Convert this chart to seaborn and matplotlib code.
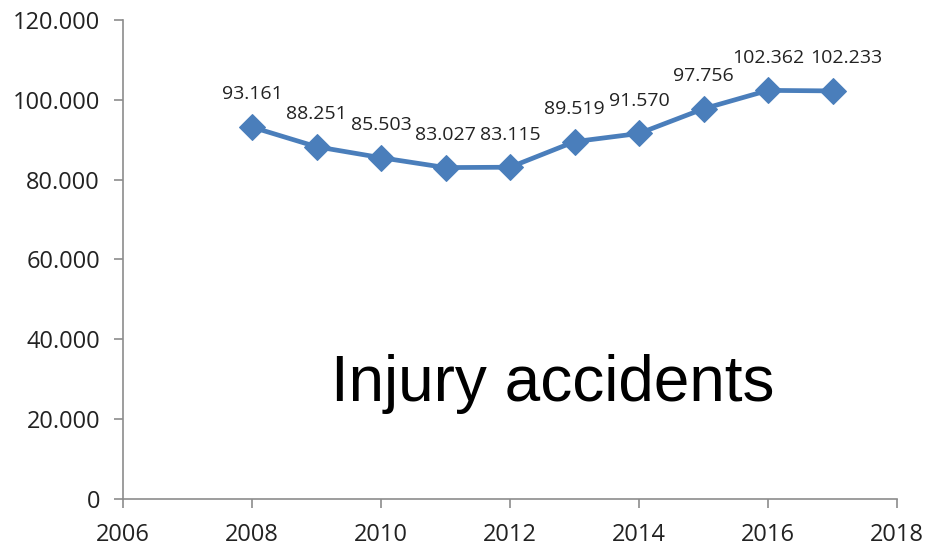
import seaborn as sns
import matplotlib.pyplot as plt
import matplotlib.ticker as mticker
import pandas as pd

years = [2008, 2009, 2010, 2011, 2012, 2013, 2014, 2015, 2016, 2017]
accidents = [93161, 88251, 85503, 83027, 83115, 89519, 91570, 97756, 102362, 102233]
y_ticks = [0, 20000, 40000, 60000, 80000, 100000, 120000]
x_ticks = [2006, 2008, 2010, 2012, 2014, 2016, 2018]
title_text = "Injury accidents"

def dotted(v):
  return f"{int(v):,}".replace(',', '.')

df = pd.DataFrame({'year': years, 'accidents': accidents})

sns.set_style("white")
plt.rcParams['font.family'] = ['Open Sans', 'DejaVu Sans']

fig = plt.figure(figsize=(9.29, 5.46), dpi=100)
ax = fig.add_axes([0.1324, 0.0861, 0.8332, 0.8773])

line_color = '#4A7EBB'
sns.lineplot(data=df, x='year', y='accidents', ax=ax, color=line_color,
             linewidth=3.4, marker='D', markersize=13, markeredgecolor=line_color)

n = len(years)
for i, (x, y) in enumerate(zip(years, accidents)):
  dx = 10 if i == n - 1 else 0  # last label nudged right so it doesn't collide
  ax.annotate(dotted(y), (x, y), xytext=(dx, 23.5), textcoords='offset points',
              ha='center', va='center', fontsize=14, color='#222222')

ax.set_xlim(2006, 2018)
ax.set_ylim(0, 120000)
ax.set_xticks(x_ticks)
ax.set_yticks(y_ticks)
ax.yaxis.set_major_formatter(mticker.FuncFormatter(lambda v, p: dotted(v)))
ax.set_xlabel('')
ax.set_ylabel('')

for side in ['top', 'right']:
  ax.spines[side].set_visible(False)
for side in ['left', 'bottom']:
  ax.spines[side].set_color('#8c8c8c')
  ax.spines[side].set_linewidth(1.2)

ax.tick_params(axis='both', which='major', direction='out', length=6.5, width=1.2,
               color='#8c8c8c', labelsize=17, labelcolor='#222222', left=True, bottom=True)
ax.tick_params(axis='y', pad=10)
ax.tick_params(axis='x', pad=11)

ax.text(0.555, 0.24, title_text, transform=ax.transAxes, fontsize=46,
        family=['Liberation Sans', 'DejaVu Sans'], ha='center', va='center', color='black')

plt.savefig('out.png', dpi=100)
